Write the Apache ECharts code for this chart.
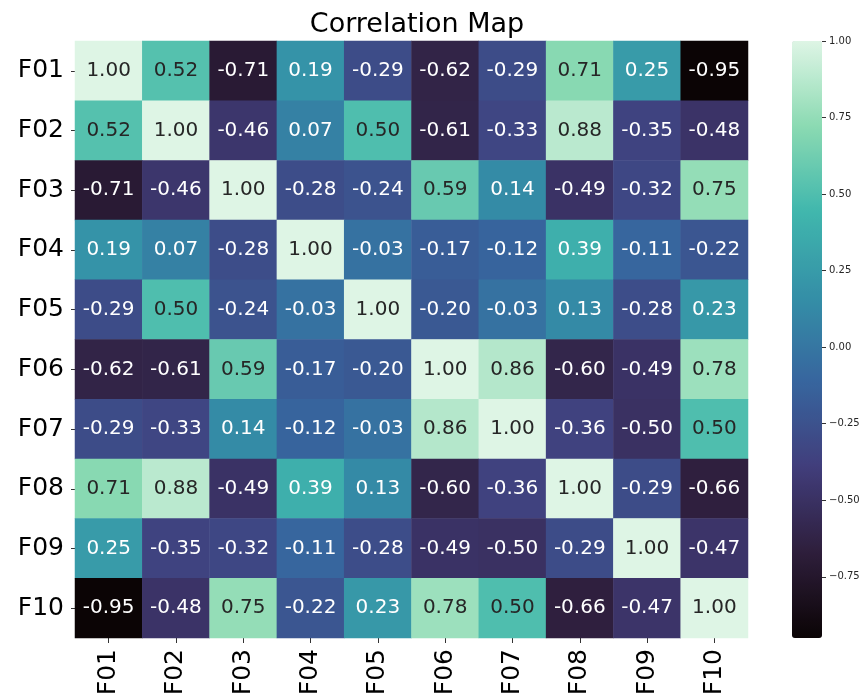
<!DOCTYPE html>
<html>
<head>
<meta charset="utf-8">
<script src="https://cdn.jsdelivr.net/npm/echarts@6/dist/echarts.min.js"></script>
<style>
html,body{margin:0;padding:0;background:#fff;}
#chart{width:863px;height:699px;}
</style>
</head>
<body>
<div id="chart"></div>
<script>
const features = ['F01','F02','F03','F04','F05','F06','F07','F08','F09','F10'];
const r01 = [ 1.00, 0.52,-0.71, 0.19,-0.29,-0.62,-0.29, 0.71, 0.25,-0.95];
const r02 = [ 0.52, 1.00,-0.46, 0.07, 0.50,-0.61,-0.33, 0.88,-0.35,-0.48];
const r03 = [-0.71,-0.46, 1.00,-0.28,-0.24, 0.59, 0.14,-0.49,-0.32, 0.75];
const r04 = [ 0.19, 0.07,-0.28, 1.00,-0.03,-0.17,-0.12, 0.39,-0.11,-0.22];
const r05 = [-0.29, 0.50,-0.24,-0.03, 1.00,-0.20,-0.03, 0.13,-0.28, 0.23];
const r06 = [-0.62,-0.61, 0.59,-0.17,-0.20, 1.00, 0.86,-0.60,-0.49, 0.78];
const r07 = [-0.29,-0.33, 0.14,-0.12,-0.03, 0.86, 1.00,-0.36,-0.50, 0.50];
const r08 = [ 0.71, 0.88,-0.49, 0.39, 0.13,-0.60,-0.36, 1.00,-0.29,-0.66];
const r09 = [ 0.25,-0.35,-0.32,-0.11,-0.28,-0.49,-0.50,-0.29, 1.00,-0.47];
const r10 = [-0.95,-0.48, 0.75,-0.22, 0.23, 0.78, 0.50,-0.66,-0.47, 1.00];
const rows = [r01,r02,r03,r04,r05,r06,r07,r08,r09,r10];
const cbarTicks = [-0.75,-0.50,-0.25,0.00,0.25,0.50,0.75,1.00];
const vMin = -0.95, vMax = 1.00;
const mako = ['#0b0405','#2e1e3b','#413d7b','#37659e','#348fa7','#40b7ad','#8bdab2','#def5e5'];

function hexToRgb(h){return [parseInt(h.slice(1,3),16),parseInt(h.slice(3,5),16),parseInt(h.slice(5,7),16)];}
function colorAt(v){
  let t=(v-vMin)/(vMax-vMin); t=Math.max(0,Math.min(1,t));
  const p=t*(mako.length-1); const i=Math.min(Math.floor(p),mako.length-2); const f=p-i;
  const a=hexToRgb(mako[i]), b=hexToRgb(mako[i+1]);
  return a.map((c,k)=>c+(b[k]-c)*f);
}
function lum(rgb){
  const l=rgb.map(c=>{c/=255;return c<=0.03928?c/12.92:Math.pow((c+0.055)/1.055,2.4);});
  return 0.2126*l[0]+0.7152*l[1]+0.0722*l[2];
}
const data=[];
rows.forEach((row,yi)=>row.forEach((v,xi)=>{
  const dark = lum(colorAt(v)) > 0.38;
  data.push({value:[xi,yi,v],label:{color: dark ? '#262626' : '#ffffff'}});
}));

const font='DejaVu Sans';
const chart=echarts.init(document.getElementById('chart'),null,{renderer:'canvas'});
chart.setOption({
  animation:false,
  backgroundColor:'#fff',
  title:{text:'Correlation Map',left:412,top:6,textAlign:'center',
    textStyle:{fontFamily:font,fontSize:27,fontWeight:'normal',color:'#000'}},
  grid:[
    {left:75,top:41,width:673,height:597},
    {left:792,top:41,width:30,height:597}
  ],
  xAxis:[
    {type:'category',data:features,gridIndex:0,
      axisLine:{show:false},
      axisTick:{show:true,alignWithLabel:true,length:5,lineStyle:{color:'#333'}},
      axisLabel:{rotate:90,margin:11,fontFamily:font,fontSize:25,color:'#000'},
      splitLine:{show:false}},
    {type:'value',gridIndex:1,show:false,min:0,max:1}
  ],
  yAxis:[
    {type:'category',data:features,inverse:true,gridIndex:0,
      axisLine:{show:false},
      axisTick:{show:true,alignWithLabel:true,length:4,lineStyle:{color:'#333'}},
      axisLabel:{margin:11,fontFamily:font,fontSize:25,color:'#000'},
      splitLine:{show:false}},
    {type:'value',gridIndex:1,position:'right',min:vMin,max:vMax,
      axisLine:{show:false,onZero:false},splitLine:{show:false},
      axisTick:{show:true,length:4,customValues:cbarTicks,lineStyle:{color:'#333'}},
      axisLabel:{show:true,margin:7,customValues:cbarTicks,fontFamily:font,fontSize:10,color:'#262626',
        formatter:v=>(v<0?'\u2212':'')+Math.abs(v).toFixed(2)}}
  ],
  visualMap:{type:'continuous',min:vMin,max:vMax,dimension:2,seriesIndex:0,
    calculable:false,hoverLink:false,orient:'vertical',left:792,top:41,itemWidth:30,itemHeight:597,
    padding:0,showLabel:false,textStyle:{fontSize:0,color:'rgba(0,0,0,0)'},inRange:{color:mako}},
  series:[
    {type:'heatmap',xAxisIndex:0,yAxisIndex:0,data:data,
      itemStyle:{borderWidth:0},
      label:{show:true,fontFamily:font,fontSize:20,formatter:p=>p.value[2].toFixed(2)},
      emphasis:{disabled:true}}
  ]
});
</script>
</body>
</html>
